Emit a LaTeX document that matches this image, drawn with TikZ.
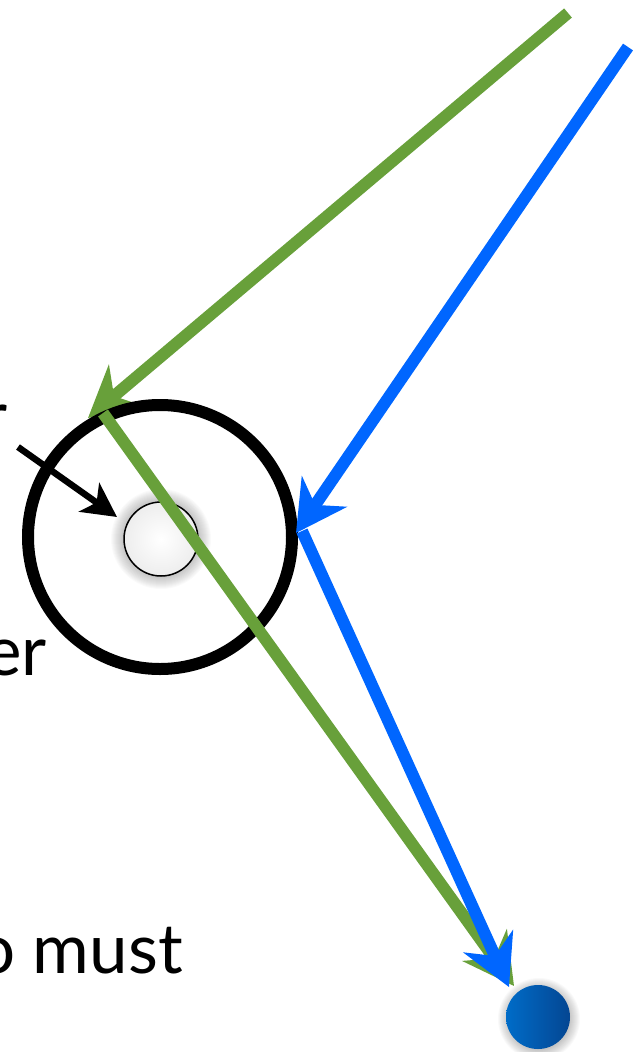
\documentclass[tikz,border=0pt]{standalone}
\usepackage{fontspec}
\setmainfont{Lato}
\usetikzlibrary{arrows.meta}
\definecolor{raygreen}{RGB}{104,160,58}
\definecolor{rayblue}{RGB}{0,102,255}
\definecolor{dotlight}{RGB}{0,108,200}
\definecolor{dotdark}{RGB}{4,70,146}

\begin{document}
\begin{tikzpicture}[x=1pt, y=-1pt,
    >={Stealth[length=50pt, width=54pt, inset=16pt]},
    ray/.style={->, line width=12pt},
    word/.style={font=\fontsize{69}{80}\selectfont, anchor=base east, inner sep=0pt}]
  \useasboundingbox (0,0) rectangle (634,1052);
  \clip (0,0) rectangle (634,1052);

  % points where the rays start, turn and end
  \coordinate (gstart) at (568,13);
  \coordinate (gtip) at (88,418);
  \coordinate (gturn) at (103,413);
  \coordinate (gend) at (514,986);
  \coordinate (bstart) at (628,47);
  \coordinate (btip) at (296,533);
  \coordinate (bturn) at (302,531);
  \coordinate (bend) at (509,987);
  \coordinate (ptail) at (18,447);
  \coordinate (ptip) at (117,517);

  % cut-off words at the left
  \node[word] (wr) at (8,440) {r};
  \node[word] (wer) at (47,675) {er};
  \node[word] (wmust) at (183,973) {o must};

  \draw[ray, raygreen] (gstart) -- (gtip);

  % halo round the small circle
  \foreach \i in {0,...,13}
    \fill[black, opacity=0.02] (161,539) circle ({37+\i});
  \node[circle, minimum size=74pt, inner sep=0pt, inner color=white, outer color=black!7] (core) at (161,539) {};
  \draw[line width=1.5pt] (core.center) circle (37);
  \node[draw, circle, line width=12pt, minimum size=264pt, inner sep=0pt] (lens) at (160,537) {};

  \draw[->, line width=6.5pt, >={Stealth[length=34pt, width=35pt, inset=9pt]}] (ptail) -- (ptip);

  \draw[ray, raygreen] (gturn) -- (gend);
  \draw[ray, rayblue] (bstart) -- (btip);
  \draw[ray, rayblue] (bturn) -- (bend);

  % the target dot with its shadow
  \foreach \i in {0,...,10}
    \fill[black, opacity=0.025] (539,1019) circle ({31+\i});
  \node[circle, minimum size=64pt, inner sep=0pt, left color=dotlight, right color=dotdark] (target) at (538,1017) {};
\end{tikzpicture}
\end{document}
